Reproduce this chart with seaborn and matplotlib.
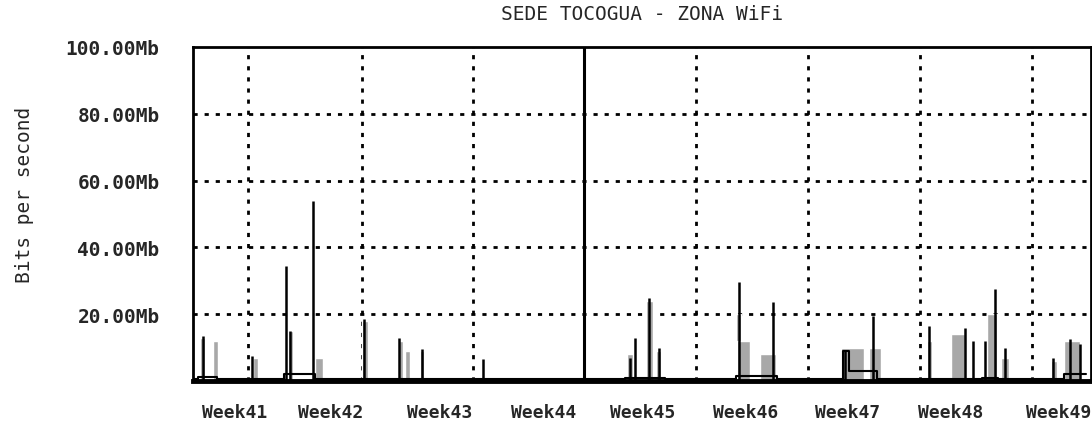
import pandas as pd
import numpy as np
import seaborn as sns
import matplotlib.pyplot as plt

# weekly labels under the graph (x in days from left edge of the plot)
weeks = ["Week41", "Week42", "Week43", "Week44", "Week45", "Week46", "Week47", "Week48", "Week49"]
week_label_day = [2.6, 8.6, 15.4, 21.9, 28.1, 34.5, 40.9, 47.3, 54.1]
week_line_day = [3.44, 10.56, 17.5, 31.4, 38.44, 45.44, 52.44]
month_line_day = [24.44]

# incoming traffic (grey area) - centre day, width in days, Mb
in_day = [0.6, 1.4, 3.9, 6.1, 7.9, 10.75, 13.0, 13.4, 14.3,
          27.3, 28.5, 29.1, 34.1, 34.4, 35.9, 41.2, 42.6,
          46.0, 47.8, 49.9, 50.7, 53.8, 54.9]
in_width = [0.35, 0.35, 0.3, 0.3, 0.5, 0.35, 0.3, 0.3, 0.25,
            0.4, 0.45, 0.3, 0.3, 0.8, 1.0, 1.4, 0.8,
            0.3, 0.9, 0.6, 0.5, 0.4, 1.0]
in_mb = [13, 12, 7, 15, 7, 18, 12, 9, 9,
         8, 24, 9, 20, 12, 8, 10, 10,
         12, 14, 20, 7, 6, 12]

# outgoing traffic peaks (black line)
out_day = [0.6, 3.7, 5.8, 6.05, 7.5, 10.7, 12.9, 14.3, 18.1, 27.3, 27.6, 28.5, 29.1,
           34.1, 36.25, 40.75, 42.5, 46.0, 48.2, 48.75, 49.5, 50.1, 50.75, 53.75, 54.8, 55.4]
out_mb = [13.5, 7.5, 34.5, 15, 54, 18.5, 13, 9.5, 6.5, 7, 13, 25, 10,
          29.6, 23.6, 9, 19.5, 16.5, 16, 12, 12, 27.5, 10, 7, 12.5, 11]

# low level of the outgoing trace between peaks
base_day = [0.0, 0.3, 1.5, 5.7, 7.6, 27.0, 29.5, 33.9, 36.5, 40.6, 41.0, 42.7, 49.3, 50.3, 54.4, 55.8]
base_mb = [0.5, 1.3, 0.5, 2.0, 0.5, 1.0, 0.5, 1.5, 0.5, 9.0, 3.0, 0.5, 1.0, 0.5, 2.0, 2.0]

y_ticks = [20, 40, 60, 80, 100]
y_labels = ["20.00Mb", "40.00Mb", "60.00Mb", "80.00Mb", "100.00Mb"]

sns.set_style("white")
plt.rcParams['font.family'] = ['DejaVu Sans Mono', 'DejaVu Sans']

fig = plt.figure(figsize=(10.92, 4.31), dpi=100)
ax = fig.add_axes([193/1092, 1 - 382/431, (1091 - 193)/1092, (382 - 48)/431])

# grid (dotted), drawn first
for v in y_ticks[:-1]:
    ax.axhline(v, color="black", lw=2, ls=(0, (1.5, 2.5)), zorder=1)
for d in week_line_day:
    ax.axvline(d, color="black", lw=2, ls=(0, (1.5, 2.5)), zorder=1)
for d in month_line_day:
    ax.axvline(d, color="black", lw=2.2, zorder=1)

ax.bar(in_day, in_mb, width=in_width, color="#a8a8a8", zorder=2)
ax.vlines(out_day, 0, out_mb, color="black", lw=1.8, zorder=3)

base = pd.DataFrame({"day": base_day, "mb": base_mb})
sns.lineplot(data=base, x="day", y="mb", ax=ax, color="black", lw=1.5,
             drawstyle="steps-post", estimator=None, zorder=3)

ax.set_xlim(0, 56.1)
ax.set_ylim(0, 100)
ax.set_yticks(y_ticks)
ax.set_yticklabels(y_labels, fontsize=14, fontweight="bold")
ax.set_xticks(week_label_day)
ax.set_xticklabels(weeks, fontsize=13, fontweight="bold")
ax.tick_params(axis="y", length=0, pad=24)
ax.tick_params(axis="x", length=0, pad=16)
ax.set_xlabel("")
ax.set_ylabel("")

for s in ax.spines.values():
    s.set_color("black")
    s.set_linewidth(2)
ax.spines["bottom"].set_linewidth(3.5)

ax.set_title("SEDE TOCOGUA - ZONA WiFi", fontsize=14, pad=20)
fig.text(25/1092, 1 - 195/431, "Bits per second", rotation=90, fontsize=14,
         ha="center", va="center")

fig.savefig("out.png", dpi=100)
